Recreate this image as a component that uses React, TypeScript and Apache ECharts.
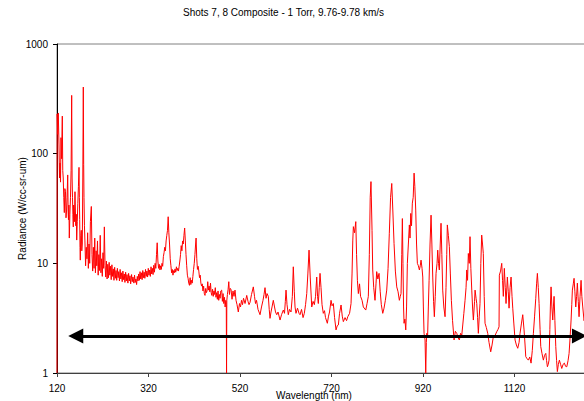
import React, { useEffect, useRef } from 'react';
import * as echarts from 'echarts';

const TITLE = 'Shots 7, 8 Composite - 1 Torr, 9.76-9.78 km/s';
const X_NAME = 'Wavelength (nm)';
const Y_NAME = 'Radiance (W/cc-sr-um)';
const X_MIN = 120;
const X_MAX = 1320;
const X_STEP = 200;
const Y_MIN = 1;
const Y_MAX = 1000;

// Double-headed reference arrow (wavelength nm, radiance)
const arrowStart: [number, number] = [161, 2.18];
const arrowEnd: [number, number] = [1262, 2.18];

// [wavelength nm, radiance W/cc-sr-um]
const spectrum: [number, number][] = [
  [120, 1], [120.4, 230], [121.5, 150], [122.8, 235], [124.4, 120], [125.5, 60], [126.6, 82], [127.7, 55],
  [128.7, 140], [130, 90], [131.6, 220], [132.6, 70], [133.6, 60], [134.8, 40], [136, 29], [137.2, 48],
  [138.6, 45], [139.7, 26], [140.8, 30], [142, 40], [143.4, 64], [144.3, 30], [145.1, 25], [146, 34],
  [146.9, 17], [148.2, 28], [149.5, 40], [150.8, 70], [152.1, 340], [153, 60], [153.9, 40], [154.7, 28],
  [155.6, 21.5], [156.4, 34], [157.2, 30], [158.2, 24], [159.3, 45], [160.2, 30], [161.1, 22], [162.1, 28],
  [163.1, 16.3], [164.3, 24], [165.5, 35], [166.8, 50], [168.1, 75], [168.9, 40], [169.6, 25], [170.3, 14],
  [170.9, 10.7], [172, 18], [173.1, 20], [174.2, 13], [175.3, 15], [176.4, 60], [177.5, 405], [178.3, 80],
  [179, 40], [180, 22], [181, 16], [182.5, 9.5], [184, 14], [185.5, 11], [187, 19], [188.5, 9],
  [190, 15], [191.5, 10], [193, 24], [195, 33], [196.5, 12], [198, 8.5], [199.5, 14], [201, 9],
  [202.5, 17], [204, 8.2], [205.5, 13], [207, 9.5], [208.5, 16], [210, 7.8], [211.5, 12], [213, 8.6],
  [214.5, 18], [216, 8.2], [217.5, 11], [219, 7.6], [220.5, 12.5], [222, 9], [223.5, 21.5], [225, 9.6],
  [226.5, 7.5], [228, 10.5], [229.5, 7.2], [231, 9.8], [232.5, 7.4], [234, 10.2], [235.5, 7.8], [237, 9.4],
  [238.5, 7.1], [240, 9.7], [241.5, 7.6], [243, 8.9], [244.5, 7.0], [246, 9.2], [247.5, 7.3], [249, 8.6],
  [250.5, 7.0], [252, 9.0], [253.5, 7.4], [255, 8.4], [256.5, 6.9], [258, 8.8], [259.5, 7.2], [261, 8.2],
  [262.5, 6.8], [264, 8.5], [265.5, 7.1], [267, 8.0], [268.5, 6.7], [270, 8.3], [271.5, 6.9], [273, 7.9],
  [275, 6.6], [276.5, 8.1], [278, 6.9], [279.5, 7.7], [281, 6.5], [283, 7.9], [284.5, 6.8], [286, 7.5],
  [288, 6.6], [289.5, 7.8], [291, 6.7], [292.5, 7.2], [294, 6.4], [295.5, 7.6], [297, 6.9], [298.5, 8.0],
  [300, 7.0], [301.5, 8.4], [303, 7.2], [304.5, 8.2], [306, 7.1], [307.5, 8.6], [309, 7.4], [310.5, 8.3],
  [312, 7.3], [313.5, 8.8], [315, 7.6], [316.5, 8.5], [318, 7.5], [319.5, 9.0], [321, 7.8], [322.5, 8.7],
  [324, 7.6], [325.5, 9.3], [327, 8.0], [328.5, 9.0], [330, 7.9], [331.5, 9.6], [333, 8.3], [334.5, 10],
  [336, 9], [337.5, 12], [339, 15.4], [340.5, 10.5], [342, 9.0], [343.5, 9.8], [345, 8.7], [346.5, 9.5],
  [348, 8.8], [349.5, 10], [351, 9.4], [352.5, 11.5], [354, 12.5], [355.5, 14], [357, 13], [358.5, 16],
  [360, 18], [361.5, 20], [363, 26.6], [364.5, 19], [366, 15], [367.5, 11], [369, 9.5], [370.5, 8.2],
  [372, 8.8], [373.5, 7.8], [375, 8.6], [376.5, 8.2], [378, 8.9], [379.5, 8.3], [381, 9.3], [382.5, 8.6],
  [384, 9.0], [385.5, 8.5], [387, 9.4], [388.5, 10.5], [390, 12], [391.5, 14.5], [393, 13], [394.5, 16],
  [396, 15], [397.5, 18], [399, 21], [400.5, 16], [402, 12], [403.5, 9.5], [405, 7.8], [406.5, 7.3],
  [408, 6.6], [409.5, 6.3], [411, 7.4], [412.5, 6.4], [414, 7.0], [415.5, 6.6], [417, 7.6], [418.5, 8.8],
  [420, 10], [421.5, 12], [423, 15], [424, 17], [425.5, 11], [427, 8.8], [428.5, 9.4], [430, 8.5],
  [431.5, 7.4], [433, 7.8], [434.5, 6.6], [436, 6.2], [437.5, 6.5], [439, 5.6], [440.5, 6.2], [442, 5.3],
  [443.5, 5.1], [445, 5.9], [446.5, 5.4], [448, 5.6], [449.5, 6.8], [451, 5.7], [452.5, 6.2], [454, 5.5],
  [455.5, 6.6], [457, 5.4], [458.5, 5.1], [460, 5.8], [461.5, 5.0], [463, 5.6], [464.5, 5.2], [466, 6.0],
  [467.5, 4.9], [469, 5.4], [470.5, 4.7], [472, 5.6], [473.5, 4.6], [475, 5.2], [476.5, 4.8], [478, 5.6],
  [480, 5.7], [481.5, 4.5], [483, 5.3], [484.5, 4.3], [486, 4.9], [487.5, 4.0], [489, 4.6], [490, 4.2],
  [490.6, 1], [491.2, 4.6], [492.5, 5.2], [494, 5.8], [495.5, 6.8], [497, 5.2], [498.5, 5.9], [500.4, 5.8],
  [502.6, 4.7], [504.7, 5.6], [506.9, 5.0], [509.1, 5.7], [511.3, 4.6], [513.5, 4.2], [516.3, 3.6], [518.9, 4.3],
  [521.1, 4.0], [523.3, 4.6], [525.5, 4.2], [527.7, 4.8], [531, 4.3], [534.7, 5.1], [537.5, 4.5], [539.7, 4.2],
  [541.9, 4.4], [545.2, 5.2], [549.1, 6.1], [551.7, 5.0], [553.9, 4.3], [556.1, 4.6], [559.4, 3.8], [563.8, 3.4],
  [567, 4.0], [570.3, 4.6], [572.5, 5.2], [574.7, 6], [576.9, 4.8], [579.1, 5.3], [581.9, 5], [583.9, 3.8],
  [585.6, 3.15], [587.8, 3.6], [590, 4.0], [592.8, 4.6], [595.5, 4.0], [597.6, 3.6], [600.3, 3.4], [603.1, 3.6],
  [607.5, 3.04], [610.8, 3.4], [614.7, 3.75], [617.3, 3.5], [619.1, 4.5], [620.6, 5.7], [622.8, 4.2], [625.6, 3.4],
  [628.2, 3.8], [631.5, 3.6], [634.4, 5], [636.5, 9.3], [638.7, 5.5], [640.3, 4.0], [642.4, 3.5], [645.7, 3.9],
  [649, 3.5], [651.2, 3.4], [654.5, 3.8], [657.8, 3.2], [660.6, 3.5], [663.3, 4.2], [665.9, 5.3], [668.3, 8],
  [670.9, 13.2], [673.5, 7.5], [676.8, 4.0], [679.7, 4.5], [682.5, 4.2], [685.1, 5], [687.7, 7.5], [689.5, 5],
  [691.2, 4.3], [693.2, 6], [694.9, 8.1], [697.1, 6], [699.3, 4.2], [702.1, 3.5], [704.7, 3.7], [706.9, 3.2],
  [710.9, 2.84], [713.5, 3.3], [715.7, 3.6], [719, 4.6], [721.2, 4.1], [724, 4.3], [726.7, 3.2], [729.9, 2.47],
  [732.6, 2.7], [735, 2.74], [737.6, 3.5], [740.9, 4.17], [743.5, 3.3], [745.9, 2.94], [749.6, 3.2], [752.9, 3.0],
  [755.6, 3.26], [759.5, 3.5], [762.7, 4.3], [764.9, 8], [766.5, 16], [767.8, 21.6], [770.4, 19], [773.1, 24],
  [774.8, 12], [776.6, 7], [778.7, 5.3], [781.3, 6.5], [783.5, 5], [786.8, 4.6], [789.6, 4.0], [794.9, 3.75],
  [797.7, 4.3], [800.5, 5], [802.7, 12], [804.6, 40], [806.3, 55.6], [808.6, 20], [810.1, 8.7], [812.3, 6],
  [815.1, 4.6], [817.3, 6.5], [818.8, 8.4], [821.3, 7.2], [823.9, 8.1], [826.5, 5.5], [828.9, 4.2], [832, 3.5],
  [834.8, 3.9], [837.7, 4.6], [840.7, 5.7], [843.6, 9], [846.4, 18.8], [849.1, 40], [851.7, 53.5], [854.1, 30],
  [856.7, 15.2], [859.6, 8.5], [862.6, 6.1], [865.5, 5.5], [868.3, 4.6], [870.3, 5], [872, 5.3], [873.6, 12],
  [874.9, 25.6], [876.2, 10], [877.5, 4], [878.6, 2.84], [880.4, 3.1], [882.3, 2.47], [884.1, 4], [885.8, 10],
  [888, 15], [890.2, 22.4], [891.6, 17], [893.2, 28.5], [894.9, 22], [896.7, 35.4], [898.6, 40], [900.5, 66.5],
  [902.2, 50], [904.1, 30.6], [905.9, 15], [907.7, 10], [909.9, 9.5], [912.1, 8.7], [914, 9.5], [915.7, 10.7],
  [917.9, 9], [919.5, 7.5], [920.8, 4], [922.3, 2.3], [924.5, 2.0], [926, 1], [927.3, 1.9], [928.2, 2.3],
  [930, 2.1], [931.7, 4], [933.3, 7], [935.4, 15], [937.6, 27.5], [939.4, 15], [941.3, 7.5], [943.1, 4.5],
  [944.8, 3.26], [946.8, 5], [948.5, 8.1], [950.7, 10], [952.2, 13.2], [954, 10], [955.7, 8.7], [957.7, 15],
  [959.4, 23.2], [961.2, 12], [963.1, 5.7], [965.5, 4], [968.2, 3.26], [970.3, 6], [971.9, 12], [973.2, 22.4],
  [975.4, 18], [977.6, 14.2], [979.8, 8], [982, 4.6], [984.6, 3], [987.9, 2.0], [990.7, 2.4], [993.8, 2.3],
  [996.6, 2.1], [999.5, 2.0], [1002.1, 2.3], [1004.7, 2.2], [1006.9, 2.74], [1009.3, 3.5], [1011.9, 4.6], [1014.1, 6],
  [1015.6, 8.7], [1017.4, 7], [1019.1, 12.3], [1021.1, 10], [1022.8, 17.5], [1024.6, 9], [1026.6, 5.7], [1028.3, 4],
  [1030.1, 3.04], [1032.7, 4.5], [1033.8, 5.7], [1036, 4.8], [1037.5, 4.3], [1039.3, 3.2], [1041, 2.3], [1043, 3.3],
  [1044.6, 4.3], [1046.4, 10], [1048.3, 18.1], [1050.1, 15], [1051.8, 12.3], [1053.8, 5], [1055.6, 2.84], [1058.4, 2.6],
  [1061.5, 2.3], [1064.3, 1.9], [1068, 1.56], [1070.9, 1.8], [1073.7, 2.14], [1077.5, 2.2], [1081.2, 2.38], [1084, 2.5],
  [1086.2, 2.64], [1086.9, 7.8], [1089.5, 8.5], [1092.1, 10], [1093.9, 7], [1095.6, 5], [1097.8, 9], [1099.8, 6],
  [1101.5, 4.3], [1104.4, 7.5], [1106.4, 5.5], [1108.1, 3.9], [1110.3, 6], [1112.5, 7.5], [1114.6, 5], [1116.2, 3.9],
  [1118.6, 2.8], [1121.2, 2.0], [1124.1, 1.8], [1127.1, 1.68], [1130, 1.9], [1132.1, 2.3], [1135, 2.8], [1138, 3.4],
  [1140.9, 2.47], [1143.1, 1.8], [1144.6, 1.41], [1147.5, 1.35], [1150.3, 1.31], [1153.4, 1.4], [1156.2, 1.23], [1158.9, 1.6],
  [1161.3, 2.3], [1163.9, 3.3], [1166.5, 4.8], [1168.3, 6.5], [1170, 8.1], [1172, 6], [1173.7, 4.3], [1175.9, 2.5],
  [1177.4, 1.74], [1180.2, 1.5], [1183.1, 1.31], [1185.7, 1.45], [1188.4, 1.51], [1190.1, 1.3], [1191.9, 1.14], [1193.8, 1.2],
  [1195.5, 1.31], [1197.3, 2.5], [1198.4, 4], [1199.9, 6.1], [1201.7, 4], [1203.6, 3.04], [1205, 4], [1206.5, 5],
  [1208.3, 3], [1210.2, 1.74], [1212, 1.3], [1213.7, 1.03], [1215.9, 1.2], [1218.1, 1.31], [1220.7, 1.2], [1223.3, 1.1],
  [1226.2, 1.2], [1229, 1.23], [1231.7, 1.15], [1234.3, 1.14], [1237.1, 1.3], [1239.3, 1.51], [1241.5, 2.1], [1243.7, 3.04],
  [1245.2, 4.2], [1246.5, 5.7], [1248.5, 6.5], [1250.2, 7.3], [1252, 5.5], [1253.9, 4], [1255.7, 5], [1257.4, 6.6],
  [1259.4, 4.5], [1261.1, 3.26], [1263.3, 5], [1265.5, 7], [1267.2, 5], [1269.2, 4], [1272, 3], [1276, 3.6],
  [1280, 3.0],
];

const FONT = '"Liberation Sans", Arial, Helvetica, sans-serif';
const plain = (v: number) => String(Math.round(v));

export default function App() {
  const ref = useRef<HTMLDivElement>(null);
  useEffect(() => {
    if (!ref.current) return;
    const chart = echarts.init(ref.current, undefined, { renderer: 'svg' });
    chart.setOption({
      animation: false,
      backgroundColor: '#ffffff',
      textStyle: { fontFamily: FONT },
      title: {
        text: TITLE,
        left: 183,
        top: 7,
        padding: 0,
        textStyle: { fontSize: 10, fontWeight: 'normal', color: '#000', fontFamily: FONT },
      },
      grid: {
        left: 57,
        top: 44,
        width: 549,
        height: 329,
        show: true,
        borderColor: '#808080',
        borderWidth: 1,
        backgroundColor: 'transparent',
        outerBoundsMode: 'none',
      },
      xAxis: {
        type: 'value',
        min: X_MIN,
        max: X_MAX,
        interval: X_STEP,
        axisLine: { show: true, onZero: false, lineStyle: { color: '#404040', width: 1 } },
        axisTick: { show: true, length: 4, inside: false, lineStyle: { color: '#404040' } },
        axisLabel: {
          fontSize: 10,
          color: '#000',
          margin: 10,
          fontFamily: FONT,
          showMaxLabel: false,
          formatter: plain,
        },
        splitLine: { show: false },
      },
      yAxis: {
        type: 'log',
        logBase: 10,
        min: Y_MIN,
        max: Y_MAX,
        name: Y_NAME,
        nameLocation: 'middle',
        nameGap: 30,
        nameRotate: 90,
        nameMoveOverlap: false,
        nameTextStyle: { fontSize: 10, color: '#000', fontFamily: FONT },
        axisLine: { show: true, lineStyle: { color: '#000', width: 1 } },
        axisTick: { show: true, length: 4, inside: false, lineStyle: { color: '#000' } },
        axisLabel: { fontSize: 10, color: '#000', margin: 9, fontFamily: FONT, formatter: plain },
        splitLine: { show: false },
        minorTick: { show: false },
      },
      graphic: [
        {
          type: 'text',
          x: 314,
          y: 395,
          style: {
            text: X_NAME,
            fontSize: 10,
            fill: '#000',
            fontFamily: FONT,
            align: 'center',
            verticalAlign: 'middle',
          },
        },
      ],
      series: [
        {
          type: 'line',
          data: spectrum,
          showSymbol: false,
          symbol: 'none',
          clip: true,
          lineStyle: { color: '#ff0000', width: 1 },
          emphasis: { disabled: true },
          markLine: {
            silent: true,
            symbol: ['triangle', 'triangle'],
            symbolSize: [15, 15],
            label: { show: false },
            emphasis: { disabled: true },
            lineStyle: { color: '#000', width: 3, type: 'solid' },
            data: [[{ coord: arrowStart }, { coord: arrowEnd }]],
          },
        },
      ],
    });
    return () => chart.dispose();
  }, []);
  return (
    <div
      ref={ref}
      style={{ position: 'fixed', left: 0, top: 0, width: 584, height: 401, background: '#fff' }}
    />
  );
}
